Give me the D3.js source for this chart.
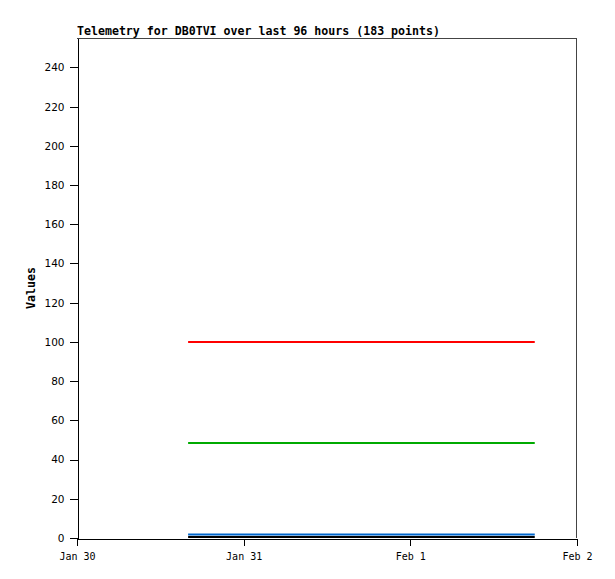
<!DOCTYPE html>
<html><head><meta charset="utf-8">
<script src="https://cdn.jsdelivr.net/npm/d3@7"></script>
<style>body{margin:0;background:#fff}</style>
</head><body>
<svg id="c" width="615" height="579"></svg>
<script>
const title = "Telemetry for DB0TVI over last 96 hours (183 points)";
const yLabel = "Values";
const xDomain = ["2024-01-30T00:00", "2024-02-02T00:00"];
const yDomain = [0, 255];
const yTicks = [0, 20, 40, 60, 80, 100, 120, 140, 160, 180, 200, 220, 240];
const xTickLabels = ["Jan 30", "Jan 31", "Feb 1", "Feb 2"];
const xTickDates = ["2024-01-30T00:00", "2024-01-31T00:00", "2024-02-01T00:00", "2024-02-02T00:00"];
const times = ["2024-01-30T16:00", "2024-02-01T17:55"];
const seriesNames = ["ch1", "ch2", "ch3", "ch4"];
const seriesColors = ["#ff0000", "#00aa00", "#0066cc", "#000000"];
const ch1 = [100, 100];
const ch2 = [48.5, 48.5];
const ch3 = [1.8, 1.8];
const ch4 = [0.5, 0.5];
const seriesValues = [ch1, ch2, ch3, ch4];

const svg = d3.select("#c");
const L = 77, R = 577, T = 38, B = 538;
const parse = d3.timeParse("%Y-%m-%dT%H:%M");
const x = d3.scaleTime().domain(xDomain.map(parse)).range([L, R]);
const y = d3.scaleLinear().domain(yDomain).range([B, T]);
const mono = "'DejaVu Sans Mono', monospace";

// frame top/right
svg.append("path").attr("d", `M${L},${T+0.5}H${R-0.5}V${B}`).attr("fill", "none")
  .attr("stroke", "#444").attr("stroke-width", 1).attr("shape-rendering", "crispEdges");

// series
const line = d3.line().x(d => x(d.t)).y(d => y(d.v));
seriesValues.forEach((vals, i) => {
  const pts = vals.map((v, j) => ({t: parse(times[j]), v}));
  svg.append("path").datum(pts).attr("d", line).attr("fill", "none")
    .attr("stroke", seriesColors[i]).attr("stroke-width", 2);
});

// y axis
const ya = svg.append("g").attr("transform", `translate(${L+0.5},0)`)
  .call(d3.axisLeft(y).tickValues(yTicks).tickSize(8).tickPadding(5).tickSizeOuter(0));
ya.select(".domain").attr("stroke", "#000").attr("shape-rendering", "crispEdges");
ya.selectAll(".tick line").attr("stroke", "#000").attr("shape-rendering", "crispEdges");
ya.selectAll("text").attr("font-family", "'DejaVu Sans', sans-serif").attr("font-size", 10.5).attr("fill", "#000");

// x axis
const xa = svg.append("g").attr("transform", `translate(0,${B+0.5})`)
  .call(d3.axisBottom(x).tickValues(xTickDates.map(parse)).tickFormat((d, i) => xTickLabels[i])
    .tickSize(7).tickPadding(7).tickSizeOuter(0));
xa.select(".domain").attr("stroke", "#000").attr("shape-rendering", "crispEdges");
xa.selectAll(".tick line").attr("stroke", "#000").attr("shape-rendering", "crispEdges");
xa.selectAll("text").attr("font-family", mono).attr("font-size", 10).attr("fill", "#000");

// title
svg.append("text").attr("x", L).attr("y", 35).attr("font-family", mono)
  .attr("font-weight", "bold").attr("font-size", 11.6).text(title);

// y label
svg.append("text").attr("transform", `translate(35,${(T+B)/2}) rotate(-90)`)
  .attr("text-anchor", "middle").attr("font-family", mono).attr("font-weight", "bold")
  .attr("font-size", 11.6).text(yLabel);
</script>
</body></html>
